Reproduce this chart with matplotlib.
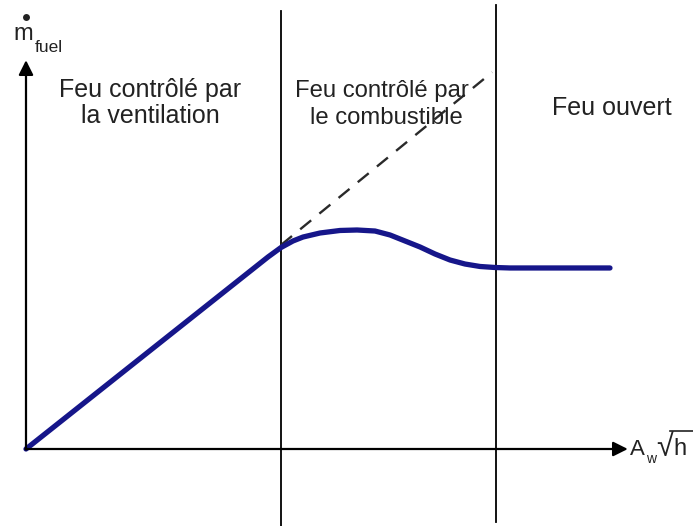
import matplotlib
matplotlib.use("Agg")
import matplotlib.pyplot as plt

plt.rcParams['font.family'] = ['Liberation Sans', 'DejaVu Sans']

# schematic curve (arbitrary units, origin at axis corner)
curve_x = [0, 4.033, 4.25, 4.45, 4.617, 4.90, 5.233, 5.517, 5.817, 6.067,
           6.317, 6.567, 6.817, 7.067, 7.317, 7.567, 7.817, 8.067, 9.733]
curve_y = [0, 3.200, 3.358, 3.467, 3.533, 3.600, 3.642, 3.650, 3.633, 3.567,
           3.467, 3.367, 3.250, 3.150, 3.083, 3.042, 3.025, 3.017, 3.017]

# extrapolation of the ventilation-controlled regime
dash_x = [4.25, 7.77]
dash_y = [3.40, 6.28]

# regime boundaries
bounds = [4.25, 7.83]

regions = [["Feu contrôlé par", "la ventilation"],
           ["Feu contrôlé par", "le combustible"],
           ["Feu ouvert"]]
region_x = [2.07, 5.93, 9.77]

fig = plt.figure(figsize=(6.93, 5.26), dpi=100)
ax = fig.add_axes([0, 0, 1, 1])
s = 60.0
ax.set_xlim(-26 / s, 667 / s)
ax.set_ylim(-77 / s, 449 / s)
ax.axis('off')

# axes with arrows
ax.annotate('', xy=(10.03, 0), xytext=(-0.01, 0),
            arrowprops=dict(arrowstyle='-|>', lw=1.6, color='black',
                            mutation_scale=22, shrinkA=0, shrinkB=0))
ax.annotate('', xy=(0, 6.48), xytext=(0, -0.01),
            arrowprops=dict(arrowstyle='-|>', lw=1.6, color='black',
                            mutation_scale=22, shrinkA=0, shrinkB=0))

ax.plot([bounds[0]] * 2, [7.30, -1.30], color='black', lw=1.3)
ax.plot([bounds[1]] * 2, [7.40, -1.22], color='black', lw=1.3)

ax.plot(dash_x, dash_y, color='#2a2a2a', lw=1.7, dashes=(6, 4.5))
ax.plot(curve_x, curve_y, color='#16168a', lw=3.8,
        solid_capstyle='round', solid_joinstyle='round')

txt = dict(fontsize=18, color='#222222', ha='center', va='baseline')
ax.text(region_x[0], (449 - 97) / s, regions[0][0], **txt)
ax.text(region_x[0], (449 - 123) / s, regions[0][1], **txt)
ax.text(region_x[1], (449 - 97) / s, regions[1][0], fontsize=17.2,
        color='#222222', ha='center', va='baseline')
ax.text(region_x[1] + 0.07, (449 - 124) / s, regions[1][1], fontsize=17.2,
        color='#222222', ha='center', va='baseline')
ax.text(region_x[2], (449 - 115) / s, regions[2][0], **txt)

# y label: m-dot fuel
lab = dict(color='#222222', va='baseline', ha='left')
ax.text((13 - 26) / s, (449 - 40) / s, 'm', fontsize=17, **lab)
ax.plot([0], [(449 - 17) / s], 'o', color='#222222', ms=5, mew=0)
ax.text((35 - 26) / s, (449 - 52) / s, 'fuel', fontsize=12.5, **lab)

# x label: A_w sqrt(h)
ax.text((630 - 26) / s, (449 - 455) / s, 'A', fontsize=16, **lab)
ax.text((646 - 26) / s, (449 - 463) / s, 'w', fontsize=10, **lab)
ax.text((656 - 26) / s, (449 - 456.5) / s, '√', fontsize=22, **lab)
ax.plot([(670 - 26) / s, (693 - 26) / s], [(449 - 431) / s] * 2,
        color='#222222', lw=1.2)
ax.text((673 - 26) / s, (449 - 455) / s, 'h', fontsize=17, **lab)

fig.savefig('out.png', dpi=100)
